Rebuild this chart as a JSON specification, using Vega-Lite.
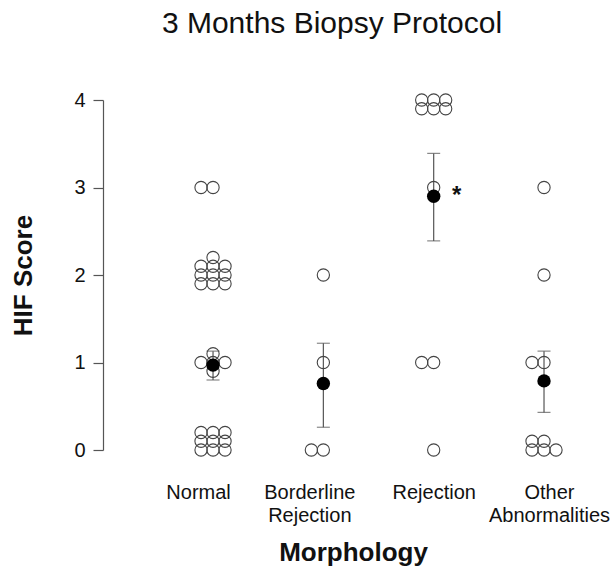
{
  "$schema": "https://vega.github.io/schema/vega-lite/v6.json",
  "usermeta": {"embedOptions": {"actions": false}},
  "autosize": {"type": "none"},
  "padding": {"left": 103, "top": 100, "right": 11, "bottom": 119},
  "width": 500,
  "height": 350,
  "background": "white",
  "title": {
    "text": "3 Months Biopsy Protocol",
    "font": "Liberation Sans",
    "fontSize": 30,
    "fontWeight": "normal",
    "color": "#111",
    "anchor": "middle",
    "frame": "group",
    "dx": -21,
    "offset": 51
  },
  "config": {
    "view": {"stroke": null},
    "font": "Liberation Sans"
  },
  "datasets": {
    "points": [
      {"group": "Normal", "hif": 3.0, "slot": -1},
      {"group": "Normal", "hif": 3.0, "slot": 0},
      {"group": "Normal", "hif": 2.2, "slot": 0},
      {"group": "Normal", "hif": 2.1, "slot": -1},
      {"group": "Normal", "hif": 2.1, "slot": 0},
      {"group": "Normal", "hif": 2.1, "slot": 1},
      {"group": "Normal", "hif": 2.0, "slot": -1},
      {"group": "Normal", "hif": 2.0, "slot": 0},
      {"group": "Normal", "hif": 2.0, "slot": 1},
      {"group": "Normal", "hif": 1.9, "slot": -1},
      {"group": "Normal", "hif": 1.9, "slot": 0},
      {"group": "Normal", "hif": 1.9, "slot": 1},
      {"group": "Normal", "hif": 1.1, "slot": 0},
      {"group": "Normal", "hif": 1.0, "slot": -1},
      {"group": "Normal", "hif": 1.0, "slot": 0},
      {"group": "Normal", "hif": 1.0, "slot": 1},
      {"group": "Normal", "hif": 0.9, "slot": 0},
      {"group": "Normal", "hif": 0.2, "slot": -1},
      {"group": "Normal", "hif": 0.2, "slot": 0},
      {"group": "Normal", "hif": 0.2, "slot": 1},
      {"group": "Normal", "hif": 0.1, "slot": -1},
      {"group": "Normal", "hif": 0.1, "slot": 0},
      {"group": "Normal", "hif": 0.1, "slot": 1},
      {"group": "Normal", "hif": 0.0, "slot": -1},
      {"group": "Normal", "hif": 0.0, "slot": 0},
      {"group": "Normal", "hif": 0.0, "slot": 1},
      {"group": "Borderline Rejection", "hif": 2.0, "slot": 0},
      {"group": "Borderline Rejection", "hif": 1.0, "slot": 0},
      {"group": "Borderline Rejection", "hif": 0.0, "slot": -1},
      {"group": "Borderline Rejection", "hif": 0.0, "slot": 0},
      {"group": "Rejection", "hif": 4.0, "slot": -1},
      {"group": "Rejection", "hif": 4.0, "slot": 0},
      {"group": "Rejection", "hif": 4.0, "slot": 1},
      {"group": "Rejection", "hif": 3.9, "slot": -1},
      {"group": "Rejection", "hif": 3.9, "slot": 0},
      {"group": "Rejection", "hif": 3.9, "slot": 1},
      {"group": "Rejection", "hif": 3.0, "slot": 0},
      {"group": "Rejection", "hif": 1.0, "slot": -1},
      {"group": "Rejection", "hif": 1.0, "slot": 0},
      {"group": "Rejection", "hif": 0.0, "slot": 0},
      {"group": "Other Abnormalities", "hif": 3.0, "slot": 0},
      {"group": "Other Abnormalities", "hif": 2.0, "slot": 0},
      {"group": "Other Abnormalities", "hif": 1.0, "slot": -1},
      {"group": "Other Abnormalities", "hif": 1.0, "slot": 0},
      {"group": "Other Abnormalities", "hif": 0.1, "slot": -1},
      {"group": "Other Abnormalities", "hif": 0.1, "slot": 0},
      {"group": "Other Abnormalities", "hif": 0.0, "slot": -1},
      {"group": "Other Abnormalities", "hif": 0.0, "slot": 0},
      {"group": "Other Abnormalities", "hif": 0.0, "slot": 1}
    ],
    "summary": [
      {"group": "Normal", "mean": 0.97, "lo": 0.8, "hi": 1.13, "sig": ""},
      {"group": "Borderline Rejection", "mean": 0.76, "lo": 0.26, "hi": 1.22, "sig": ""},
      {"group": "Rejection", "mean": 2.9, "lo": 2.39, "hi": 3.39, "sig": "*"},
      {"group": "Other Abnormalities", "mean": 0.79, "lo": 0.43, "hi": 1.13, "sig": ""}
    ]
  },
  "encoding": {
    "x": {
      "field": "group",
      "type": "nominal",
      "sort": ["Normal", "Borderline Rejection", "Rejection", "Other Abnormalities"],
      "scale": {"type": "point", "padding": 0.766, "align": 0.651},
      "axis": {
        "title": "Morphology",
        "titleFont": "Liberation Sans",
        "titleFontSize": 26,
        "titleFontWeight": "bold",
        "titleColor": "#111",
        "titlePadding": 14,
        "labelExpr": "split(datum.label, ' ')",
        "labelFont": "Liberation Sans",
        "labelFontSize": 20,
        "labelColor": "#111",
        "labelLineHeight": 23,
        "labelAngle": 0,
        "labelPadding": 32,
        "labelOverlap": false,
        "labelBound": false,
        "labelOffset": {
          "condition": [
            {"test": "datum.value === 'Normal'", "value": -15},
            {"test": "datum.value === 'Borderline Rejection'", "value": -14},
            {"test": "datum.value === 'Other Abnormalities'", "value": 5}
          ],
          "value": 0
        },
        "domain": false,
        "ticks": false,
        "tickSize": 0,
        "grid": false
      }
    }
  },
  "layer": [
    {
      "data": {"name": "summary"},
      "mark": {"type": "rule", "color": "#555", "strokeWidth": 1.2},
      "encoding": {
        "y": {"field": "lo", "type": "quantitative"},
        "y2": {"field": "hi"}
      }
    },
    {
      "data": {"name": "summary"},
      "mark": {"type": "tick", "orient": "horizontal", "color": "#555", "size": 13, "thickness": 1.2},
      "encoding": {
        "y": {"field": "lo", "type": "quantitative"}
      }
    },
    {
      "data": {"name": "summary"},
      "mark": {"type": "tick", "orient": "horizontal", "color": "#555", "size": 13, "thickness": 1.2},
      "encoding": {
        "y": {"field": "hi", "type": "quantitative"}
      }
    },
    {
      "data": {"name": "points"},
      "mark": {"type": "point", "shape": "circle", "filled": false, "stroke": "#444", "strokeWidth": 1.1, "size": 150, "opacity": 1},
      "encoding": {
        "xOffset": {"field": "slot", "type": "quantitative", "scale": {"domain": [-1, 1], "range": [-12, 12]}},
        "y": {
          "field": "hif",
          "type": "quantitative",
          "scale": {"domain": [0, 4]},
          "axis": {
            "title": "HIF Score",
            "titleFont": "Liberation Sans",
            "titleFontSize": 26,
            "titleFontWeight": "bold",
            "titleColor": "#111",
            "titlePadding": 37,
            "values": [0, 1, 2, 3, 4],
            "format": "d",
            "labelFont": "Liberation Sans",
            "labelFontSize": 20,
            "labelColor": "#111",
            "labelPadding": 8,
            "tickSize": 10,
            "tickColor": "#555",
            "tickWidth": 1.2,
            "domainColor": "#555",
            "domainWidth": 1.2,
            "grid": false
          }
        }
      }
    },
    {
      "data": {"name": "summary"},
      "mark": {"type": "point", "shape": "circle", "filled": true, "color": "#000", "size": 180, "opacity": 1},
      "encoding": {
        "y": {"field": "mean", "type": "quantitative"}
      }
    },
    {
      "data": {"name": "summary"},
      "mark": {"type": "text", "font": "Liberation Sans", "fontSize": 24, "fontWeight": "bold", "color": "#111", "dx": 23, "baseline": "middle"},
      "encoding": {
        "y": {"field": "mean", "type": "quantitative"},
        "text": {"field": "sig"}
      }
    }
  ],
  "resolve": {"scale": {"y": "shared"}}
}
